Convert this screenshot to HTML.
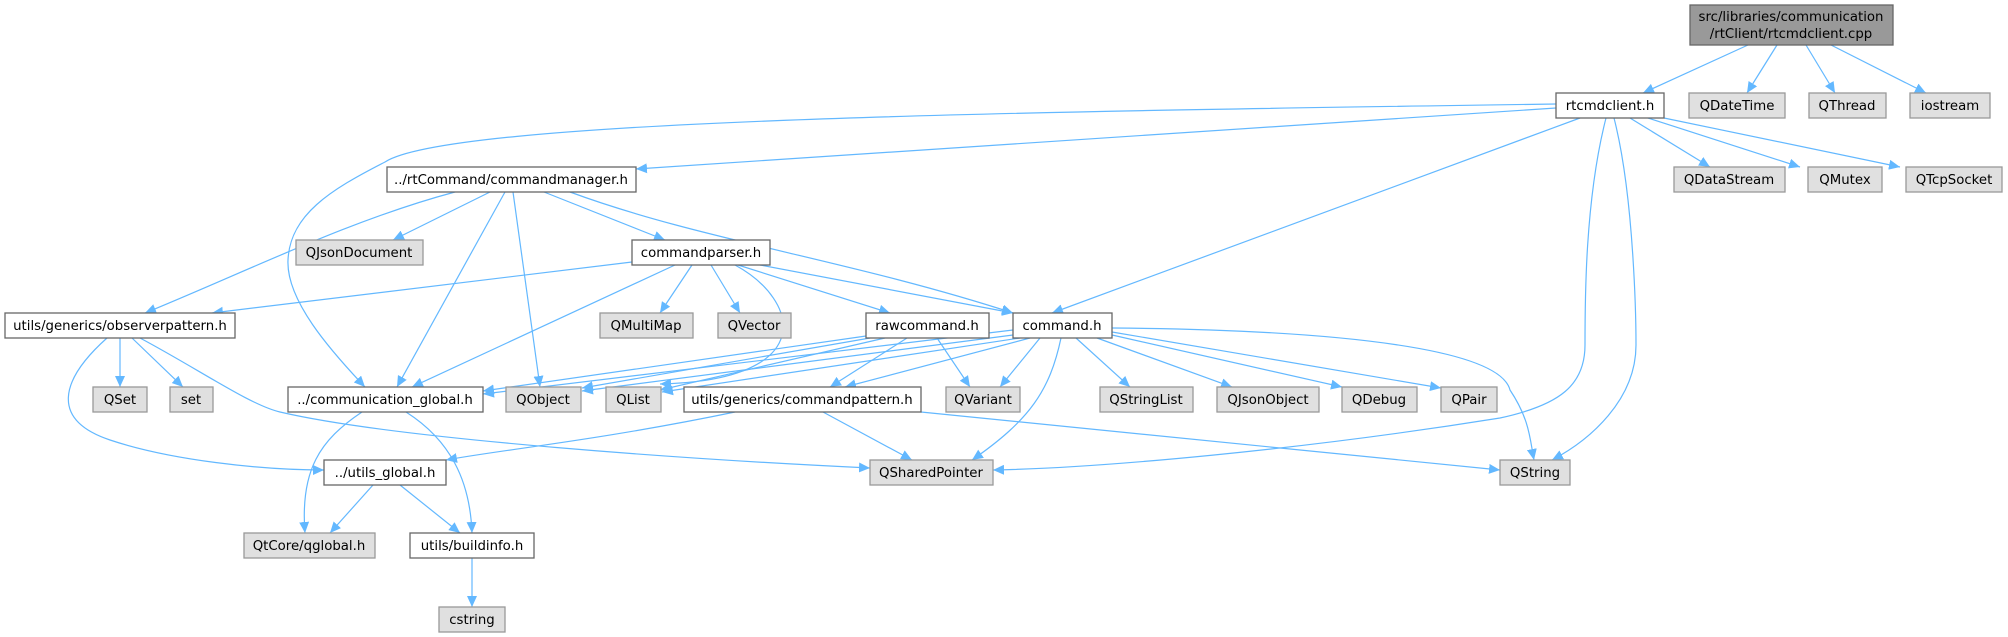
<!DOCTYPE html>
<html><head><meta charset="utf-8"><style>
html,body{margin:0;padding:0;background:#fff;}
svg{display:block;}
text{font-family:"DejaVu Sans","Liberation Sans",sans-serif;font-size:13.3px;fill:#000;text-anchor:middle;}
.e{fill:none;stroke:#63b8ff;stroke-width:1.2;marker-end:url(#a);}
.w{fill:#fff;stroke:#666;stroke-width:1.3;}
.g{fill:#e0e0e0;stroke:#999;stroke-width:1.3;}
.m{fill:#999;stroke:#666;stroke-width:1.3;}
</style></head><body>
<svg width="2008" height="637" viewBox="0 0 2008 637" xmlns="http://www.w3.org/2000/svg">
<defs><marker id="a" markerUnits="userSpaceOnUse" markerWidth="12" markerHeight="10" refX="11" refY="5" orient="auto"><path d="M0,0 L11,5 L0,10 z" fill="#63b8ff"/></marker></defs>
<g>
<path class="e" d="M1748,45 L1643,93"/>
<path class="e" d="M1777,45 L1747,93"/>
<path class="e" d="M1806,45 L1835,93"/>
<path class="e" d="M1831,45 L1926,93"/>
<path class="e" d="M1556,108 L636,169"/>
<path class="e" d="M1556,104 C1000,112 450,120 385,162 C330,190 290,215 288,260 C286,300 330,350 365,387"/>
<path class="e" d="M1580,118 L1052,313"/>
<path class="e" d="M1606,118 C1585,200 1585,300 1585,345 C1585,385 1560,405 1500,418 C1300,450 1100,468 993,470"/>
<path class="e" d="M1614,118 C1635,200 1636,330 1636,345 C1636,400 1590,440 1552,460"/>
<path class="e" d="M1630,118 L1710,167"/>
<path class="e" d="M1648,118 L1800,167"/>
<path class="e" d="M1664,118 L1900,167"/>
<path class="e" d="M455,192 C350,220 250,270 145,313"/>
<path class="e" d="M490,192 L393,240"/>
<path class="e" d="M505,192 L397,387"/>
<path class="e" d="M513,192 L540,387"/>
<path class="e" d="M544,192 L665,240"/>
<path class="e" d="M570,192 C700,240 850,260 1013,313"/>
<path class="e" d="M632,262 L212,313"/>
<path class="e" d="M675,265 L412,387"/>
<path class="e" d="M692,265 L660,313"/>
<path class="e" d="M711,265 L740,313"/>
<path class="e" d="M735,265 C800,300 820,380 660,384"/>
<path class="e" d="M738,265 L890,313"/>
<path class="e" d="M760,265 L1013,313"/>
<path class="e" d="M120,338 L120,387"/>
<path class="e" d="M132,338 L183,387"/>
<path class="e" d="M107,338 C60,380 50,420 110,440 C170,460 260,470 324,470"/>
<path class="e" d="M140,338 C200,370 250,405 280,412 C400,440 700,460 870,468"/>
<path class="e" d="M866,336 L483,391"/>
<path class="e" d="M870,338 L582,388"/>
<path class="e" d="M885,338 L660,390"/>
<path class="e" d="M907,338 L830,387"/>
<path class="e" d="M937,338 L970,387"/>
<path class="e" d="M1013,330 L483,394"/>
<path class="e" d="M1013,335 L582,391"/>
<path class="e" d="M1020,338 L662,392"/>
<path class="e" d="M1030,338 L845,387"/>
<path class="e" d="M1040,338 L1000,387"/>
<path class="e" d="M1061,338 C1050,390 1030,420 972,460"/>
<path class="e" d="M1076,338 L1130,387"/>
<path class="e" d="M1097,338 L1232,387"/>
<path class="e" d="M1112,335 L1342,387"/>
<path class="e" d="M1112,332 L1441,388"/>
<path class="e" d="M1112,328 C1350,330 1500,350 1510,390 C1530,420 1530,440 1534,460"/>
<path class="e" d="M362,412 C320,440 300,470 305,533"/>
<path class="e" d="M406,412 C450,440 470,480 472,533"/>
<path class="e" d="M735,412 C600,440 500,450 446,460"/>
<path class="e" d="M823,412 L912,460"/>
<path class="e" d="M921,412 L1500,470"/>
<path class="e" d="M373,485 L330,533"/>
<path class="e" d="M400,485 L460,533"/>
<path class="e" d="M472,558 L472,607"/>
</g>
<g>
<rect class="m" x="1690" y="5" width="203" height="40"/>
<text x="1791" y="21">src/libraries/communication</text><text x="1791" y="38">/rtClient/rtcmdclient.cpp</text>
<rect class="w" x="1556" y="93" width="108" height="25"/><text x="1610" y="110">rtcmdclient.h</text>
<rect class="g" x="1689" y="93" width="96" height="25"/><text x="1737" y="110">QDateTime</text>
<rect class="g" x="1809" y="93" width="77" height="25"/><text x="1847" y="110">QThread</text>
<rect class="g" x="1910" y="93" width="80" height="25"/><text x="1950" y="110">iostream</text>
<rect class="g" x="1674" y="167" width="111" height="25"/><text x="1729" y="184">QDataStream</text>
<rect class="g" x="1808" y="167" width="74" height="25"/><text x="1845" y="184">QMutex</text>
<rect class="g" x="1906" y="167" width="96" height="25"/><text x="1954" y="184">QTcpSocket</text>
<rect class="w" x="387" y="167" width="249" height="25"/><text x="511" y="184">../rtCommand/commandmanager.h</text>
<rect class="g" x="296" y="240" width="127" height="25"/><text x="359" y="257">QJsonDocument</text>
<rect class="w" x="632" y="240" width="138" height="25"/><text x="701" y="257">commandparser.h</text>
<rect class="w" x="5" y="313" width="230" height="25"/><text x="120" y="330">utils/generics/observerpattern.h</text>
<rect class="g" x="600" y="313" width="93" height="25"/><text x="646" y="330">QMultiMap</text>
<rect class="g" x="718" y="313" width="73" height="25"/><text x="754" y="330">QVector</text>
<rect class="w" x="866" y="313" width="123" height="25"/><text x="927" y="330">rawcommand.h</text>
<rect class="w" x="1013" y="313" width="99" height="25"/><text x="1062" y="330">command.h</text>
<rect class="g" x="93" y="387" width="54" height="25"/><text x="120" y="404">QSet</text>
<rect class="g" x="170" y="387" width="43" height="25"/><text x="191" y="404">set</text>
<rect class="w" x="288" y="387" width="195" height="25"/><text x="385" y="404">../communication_global.h</text>
<rect class="g" x="506" y="387" width="75" height="25"/><text x="543" y="404">QObject</text>
<rect class="g" x="606" y="387" width="55" height="25"/><text x="633" y="404">QList</text>
<rect class="w" x="684" y="387" width="237" height="25"/><text x="802" y="404">utils/generics/commandpattern.h</text>
<rect class="g" x="946" y="387" width="74" height="25"/><text x="983" y="404">QVariant</text>
<rect class="g" x="1100" y="387" width="93" height="25"/><text x="1146" y="404">QStringList</text>
<rect class="g" x="1217" y="387" width="102" height="25"/><text x="1268" y="404">QJsonObject</text>
<rect class="g" x="1342" y="387" width="75" height="25"/><text x="1379" y="404">QDebug</text>
<rect class="g" x="1441" y="387" width="56" height="25"/><text x="1469" y="404">QPair</text>
<rect class="w" x="324" y="460" width="122" height="25"/><text x="385" y="477">../utils_global.h</text>
<rect class="g" x="870" y="460" width="123" height="25"/><text x="931" y="477">QSharedPointer</text>
<rect class="g" x="1500" y="460" width="70" height="25"/><text x="1535" y="477">QString</text>
<rect class="g" x="244" y="533" width="131" height="25"/><text x="309" y="550">QtCore/qglobal.h</text>
<rect class="w" x="410" y="533" width="124" height="25"/><text x="472" y="550">utils/buildinfo.h</text>
<rect class="g" x="439" y="607" width="66" height="25"/><text x="472" y="624">cstring</text>
</g>
</svg>
</body></html>
